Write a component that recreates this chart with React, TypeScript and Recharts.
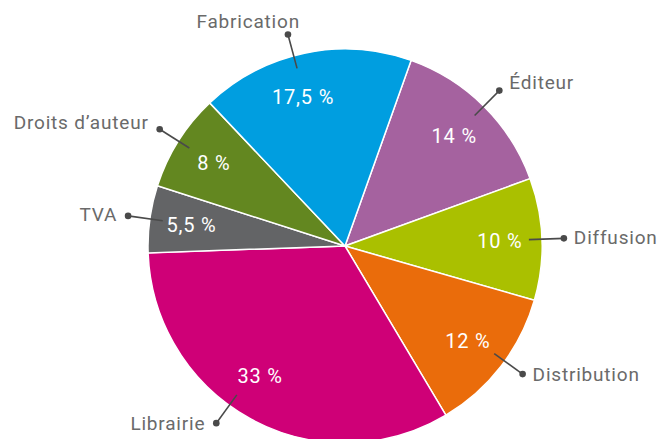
import { PieChart, Pie, Cell } from "recharts";

const names = ["Éditeur", "Diffusion", "Distribution", "Librairie", "TVA", "Droits d’auteur", "Fabrication"];
const shares = [14, 10, 12, 33, 5.5, 8, 17.5];
const colors = ["#a5629f", "#aac000", "#ea6c0b", "#cf0077", "#636466", "#638720", "#009ee0"];

const data = names.map((name, i) => ({ name, value: shares[i] }));

const RAD = Math.PI / 180;
const FONT = "Roboto, 'Noto Sans', sans-serif";

// small angle nudges so labels don't leave the picture
const lineNudge: Record<string, number> = { Librairie: -7.4, Fabrication: 3.2, Distribution: 1.8 };
const textNudge: Record<string, number> = { Librairie: -4.6, Fabrication: 3.8 };

const fmt = (v: number) => String(v).replace(".", ",") + " %";

const renderLabel = (props: any) => {
  const { cx, cy, midAngle, name, value } = props;
  const pt = (a: number, r: number) => ({
    x: cx + Math.cos(-a * RAD) * r,
    y: cy + Math.sin(-a * RAD) * r,
  });
  const la = midAngle + (lineNudge[name] || 0);
  const ta = midAngle + (textNudge[name] || 0);
  const inner = pt(ta, 155);
  const p1 = pt(la, 184);
  const p2 = pt(la, 219);
  const c = Math.cos(la * RAD);
  const s = Math.sin(la * RAD);
  let tx = p2.x;
  let ty = p2.y;
  let anchor: "start" | "end" | "middle" = c >= 0 ? "start" : "end";
  if (Math.abs(c) < 0.3) {
    anchor = "end";
    tx = p2.x + 12;
    ty = p2.y - 13;
  } else {
    tx = p2.x + (c >= 0 ? 10 : -11);
    ty = p2.y - 12 * Math.max(0, s);
  }
  return (
    <g>
      <text
        x={inner.x}
        y={inner.y}
        fill="#fff"
        textAnchor="middle"
        dominantBaseline="central"
        fontFamily={FONT}
        fontSize={20}
        fontWeight={400}
        letterSpacing={0.8}
      >
        {fmt(value)}
      </text>
      <line x1={p1.x} y1={p1.y} x2={p2.x} y2={p2.y} stroke="#4a4a4a" strokeWidth={1.6} />
      <circle cx={p2.x} cy={p2.y} r={3.3} fill="#4a4a4a" />
      <text
        x={tx}
        y={ty}
        fill="#6a6a6a"
        textAnchor={anchor}
        dominantBaseline="central"
        fontFamily={FONT}
        fontSize={19}
        letterSpacing={0.8}
      >
        {name}
      </text>
    </g>
  );
};

export default function App() {
  return (
    <div style={{ position: "absolute", left: 0, top: 0, background: "#fff" }}>
      <PieChart width={662} height={439} margin={{ top: 0, right: 0, bottom: 0, left: 0 }}>
        <Pie
          data={data}
          dataKey="value"
          nameKey="name"
          cx={345}
          cy={246}
          outerRadius={197}
          startAngle={70.4}
          endAngle={-289.6}
          stroke="#fff"
          strokeWidth={1.5}
          label={renderLabel}
          labelLine={false}
          isAnimationActive={false}
        >
          {data.map((d, i) => (
            <Cell key={d.name} fill={colors[i]} />
          ))}
        </Pie>
      </PieChart>
    </div>
  );
}
